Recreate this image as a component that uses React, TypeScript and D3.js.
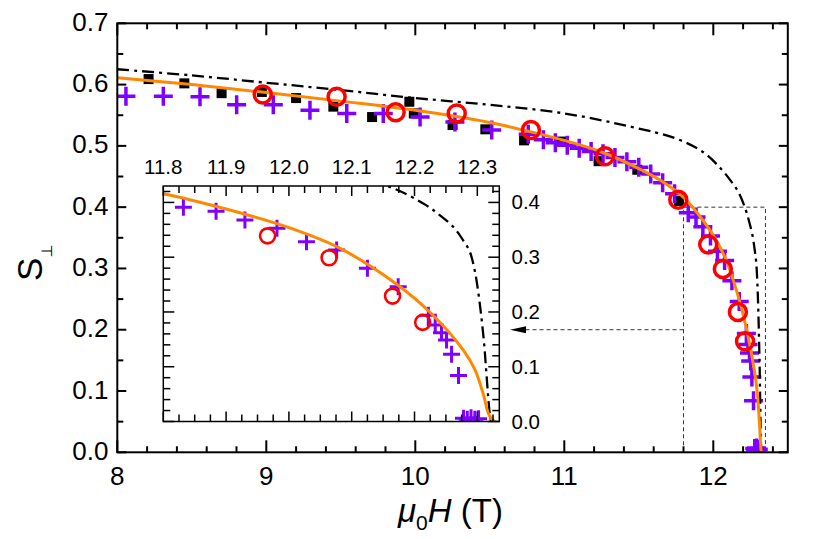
import * as d3 from "d3";

type Pt = [number, number];

// measured points, main panel (mu0H in T, S_perp)
const SQUARES: Pt[] = [
  [8.21, 0.609], [8.45, 0.602], [8.7, 0.586], [8.97, 0.588], [9.2, 0.578],
  [9.45, 0.564], [9.71, 0.547], [9.96, 0.572], [9.99, 0.553], [10.25, 0.534],
  [10.47, 0.527], [10.73, 0.509], [10.98, 0.507], [11.23, 0.475], [11.49, 0.461],
  [11.77, 0.41],
];

const CIRCLES: Pt[] = [
  [8.976, 0.584], [9.472, 0.58], [9.868, 0.555], [10.278, 0.553], [10.776, 0.526],
  [11.273, 0.483], [11.765, 0.412], [11.966, 0.339], [12.064, 0.299],
  [12.165, 0.229], [12.213, 0.181],
];

const CROSSES: Pt[] = [
  [8.058, 0.581], [8.309, 0.581], [8.555, 0.58], [8.801, 0.567], [9.047, 0.567],
  [9.293, 0.558], [9.54, 0.553], [9.785, 0.553], [10.032, 0.547], [10.266, 0.539],
  [10.513, 0.526], [10.758, 0.519], [10.86, 0.51], [10.94, 0.505], [11.02, 0.501],
  [11.1, 0.496], [11.18, 0.491], [11.26, 0.487], [11.34, 0.481], [11.42, 0.474],
  [11.5, 0.465], [11.58, 0.454], [11.66, 0.44], [11.74, 0.422],
  [11.832, 0.391], [11.884, 0.384], [11.93, 0.368], [11.981, 0.353],
  [12.028, 0.328], [12.076, 0.313], [12.125, 0.28], [12.174, 0.246],
  [12.222, 0.194], [12.233, 0.176], [12.243, 0.162], [12.251, 0.149],
  [12.259, 0.123], [12.27, 0.084],
  [12.278, 0.006], [12.284, 0.004], [12.29, 0.007], [12.296, 0.004], [12.302, 0.005],
];

// calculated curves
const CALC_SOLID: Pt[] = [
  [8, 0.611], [8.5, 0.6], [9, 0.587], [9.5, 0.573], [10, 0.558], [10.5, 0.538],
  [11, 0.509], [11.25, 0.49], [11.5, 0.463], [11.65, 0.443], [11.8, 0.416],
  [11.9, 0.388], [12.0, 0.354], [12.08, 0.317], [12.17, 0.252], [12.225, 0.199],
  [12.278, 0.13], [12.296, 0.095], [12.31, 0.048], [12.318, 0.014], [12.328, 0],
  [12.5, 0],
];

const CALC_DASHDOT: Pt[] = [
  [8.0, 0.625], [8.5, 0.615], [9.0, 0.603], [9.5, 0.591], [10.0, 0.578],
  [10.5, 0.567], [11.0, 0.553], [11.45, 0.531], [11.75, 0.512], [11.93, 0.49],
  [12.05, 0.463], [12.12, 0.442], [12.17, 0.424], [12.217, 0.396], [12.24, 0.377],
  [12.262, 0.355], [12.278, 0.33], [12.288, 0.31], [12.296, 0.275],
  [12.302, 0.232], [12.307, 0.185], [12.311, 0.14], [12.314, 0.095],
  [12.317, 0.05], [12.32, 0.012], [12.322, 0],
];

const MAIN_X_TICKS = [8, 9, 10, 11, 12];
const MAIN_Y_TICKS = [0, 0.1, 0.2, 0.3, 0.4, 0.5, 0.6, 0.7];
const INSET_X_TICKS = [11.8, 11.9, 12.0, 12.1, 12.2, 12.3];
const INSET_Y_TICKS = [0, 0.1, 0.2, 0.3, 0.4];

const ZOOM_REGION = { x0: 11.8, x1: 12.35, y1: 0.4 };
const ARROW_LEVEL = 0.2;

const FONT = "'Liberation Sans', Arial, Helvetica, sans-serif";

const COLORS = {
  purple: "#8000ff",
  red: "#ff0000",
  orange: "#ff8800",
  guide: "#333",
};

const MAIN = { left: 117.3, right: 787.8, top: 23.3, bottom: 452.3 };
const INSET = { left: 163.3, right: 499.3, top: 186, bottom: 421.5 };

type Scale = d3.ScaleLinear<number, number>;

function Frame({
  xs,
  ys,
  xMajor,
  xMinor,
  yMajor,
  yMinor,
  xLen,
  yLen,
  strokeWidth,
}: {
  xs: Scale;
  ys: Scale;
  xMajor: number[];
  xMinor: number[];
  yMajor: number[];
  yMinor: number[];
  xLen: [number, number];
  yLen: [number, number];
  strokeWidth: number;
}) {
  const [x0, x1] = xs.range();
  const [y0, y1] = ys.range(); // y0 = bottom
  const lines: JSX.Element[] = [];
  const addX = (v: number, len: number, k: string) => {
    const px = xs(v);
    lines.push(<line key={"xb" + k} x1={px} x2={px} y1={y0} y2={y0 - len} />);
    lines.push(<line key={"xt" + k} x1={px} x2={px} y1={y1} y2={y1 + len} />);
  };
  const addY = (v: number, len: number, k: string) => {
    const py = ys(v);
    lines.push(<line key={"yl" + k} x1={x0} x2={x0 + len} y1={py} y2={py} />);
    lines.push(<line key={"yr" + k} x1={x1} x2={x1 - len} y1={py} y2={py} />);
  };
  xMajor.forEach((v, i) => addX(v, xLen[0], "M" + i));
  xMinor.forEach((v, i) => addX(v, xLen[1], "m" + i));
  yMajor.forEach((v, i) => addY(v, yLen[0], "M" + i));
  yMinor.forEach((v, i) => addY(v, yLen[1], "m" + i));
  return (
    <g stroke="#000" strokeWidth={strokeWidth} fill="none">
      {lines}
      <rect x={x0} y={y1} width={x1 - x0} height={y0 - y1} />
    </g>
  );
}

function Series({
  xs,
  ys,
  crossSize,
  crossWidth,
  circleR,
  circleWidth,
  squareSize,
  showSquares,
}: {
  xs: Scale;
  ys: Scale;
  crossSize: number;
  crossWidth: number;
  circleR: number;
  circleWidth: number;
  squareSize: number;
  showSquares: boolean;
}) {
  const line = d3
    .line<Pt>()
    .x((d) => xs(d[0]))
    .y((d) => ys(d[1]))
    .curve(d3.curveCatmullRom.alpha(0.5));
  const h = crossSize / 2;
  const crossPath = CROSSES.map(([a, b]) => {
    const cx = xs(a);
    const cy = ys(b);
    return `M${cx - h},${cy}H${cx + h}M${cx},${cy - h}V${cy + h}`;
  }).join("");

  return (
    <g>
      {showSquares &&
        SQUARES.map(([a, b], i) => (
          <rect
            key={i}
            x={xs(a) - squareSize / 2}
            y={ys(b) - squareSize / 2}
            width={squareSize}
            height={squareSize}
            fill="#000"
          />
        ))}
      <path d={crossPath} stroke={COLORS.purple} strokeWidth={crossWidth} fill="none" />
      <path
        d={line(CALC_DASHDOT) ?? undefined}
        fill="none"
        stroke="#000"
        strokeWidth={2.3}
        strokeDasharray="12,5,3,5"
      />
      <path
        d={line(CALC_SOLID) ?? undefined}
        fill="none"
        stroke={COLORS.orange}
        strokeWidth={3}
      />
      {CIRCLES.map(([a, b], i) => (
        <circle
          key={i}
          cx={xs(a)}
          cy={ys(b)}
          r={circleR}
          fill="none"
          stroke={COLORS.red}
          strokeWidth={circleWidth}
        />
      ))}
    </g>
  );
}

export default function App() {
  const x = d3.scaleLinear().domain([8, 12.5]).range([MAIN.left, MAIN.right]);
  const y = d3.scaleLinear().domain([0, 0.7]).range([MAIN.bottom, MAIN.top]);
  const ix = d3.scaleLinear().domain([11.8, 12.335]).range([INSET.left, INSET.right]);
  const iy = d3.scaleLinear().domain([0, 0.43]).range([INSET.bottom, INSET.top]);

  const xMinor = d3.range(0, 23).map((i) => 8 + i * 0.2).filter((v) => Math.abs(v - Math.round(v)) > 1e-6);
  const yMinor = d3.range(0, 7).map((i) => 0.05 + i * 0.1);
  const ixMinor = d3.range(1, 22).map((i) => 11.8 + i * 0.025).filter((v) => Math.abs(v * 10 - Math.round(v * 10)) > 1e-6);
  const iyMinor = d3.range(1, 22).map((i) => i * 0.02).filter((v) => Math.abs(v * 10 - Math.round(v * 10)) > 1e-6);

  const guideX0 = x(ZOOM_REGION.x0);
  const guideX1 = x(ZOOM_REGION.x1);
  const guideTop = y(ZOOM_REGION.y1);
  const arrowY = y(ARROW_LEVEL);
  const arrowTip = 510;

  return (
    <svg
      width={830}
      height={539}
      xmlns="http://www.w3.org/2000/svg"
      style={{ position: "absolute", left: 0, top: 0, background: "#fff" }}
      fontFamily={FONT}
    >
      <defs>
        <clipPath id="main-clip">
          <rect x={MAIN.left} y={MAIN.top} width={MAIN.right - MAIN.left} height={MAIN.bottom - MAIN.top} />
        </clipPath>
        <clipPath id="inset-clip">
          <rect x={INSET.left} y={INSET.top} width={INSET.right - INSET.left} height={INSET.bottom - INSET.top} />
        </clipPath>
      </defs>

      {/* dashed zoom region + arrow */}
      <g stroke={COLORS.guide} strokeWidth={1} strokeDasharray="4,3" fill="none">
        <path d={`M${guideX0},${y(0)}V${guideTop}H${guideX1}V${y(0)}`} />
        <path d={`M${guideX0},${arrowY}H${arrowTip + 14}`} />
      </g>
      <path
        d={`M${arrowTip},${arrowY}L${arrowTip + 16},${arrowY - 3.5}L${arrowTip + 16},${arrowY + 3.5}Z`}
        fill="#000"
      />

      <g clipPath="url(#main-clip)">
        <Series
          xs={x}
          ys={y}
          crossSize={19}
          crossWidth={3.5}
          circleR={8.5}
          circleWidth={3.5}
          squareSize={10}
          showSquares={true}
        />
      </g>
      <Frame
        xs={x}
        ys={y}
        xMajor={MAIN_X_TICKS}
        xMinor={xMinor}
        yMajor={MAIN_Y_TICKS}
        yMinor={yMinor}
        xLen={[12, 6]}
        yLen={[9, 6]}
        strokeWidth={2}
      />

      {MAIN_X_TICKS.map((t) => (
        <text key={t} x={x(t)} y={485} fontSize={26} textAnchor="middle">
          {t}
        </text>
      ))}
      {MAIN_Y_TICKS.map((t) => (
        <text key={t} x={108.5} y={y(t) + 7.5} fontSize={26} textAnchor="end">
          {t.toFixed(1)}
        </text>
      ))}

      {/* inset */}
      <rect
        x={INSET.left}
        y={INSET.top}
        width={INSET.right - INSET.left}
        height={INSET.bottom - INSET.top}
        fill="#fff"
      />
      <g clipPath="url(#inset-clip)">
        <Series
          xs={ix}
          ys={iy}
          crossSize={17}
          crossWidth={3}
          circleR={7.5}
          circleWidth={2.6}
          squareSize={9}
          showSquares={false}
        />
      </g>
      <Frame
        xs={ix}
        ys={iy}
        xMajor={INSET_X_TICKS}
        xMinor={ixMinor}
        yMajor={INSET_Y_TICKS}
        yMinor={iyMinor}
        xLen={[10, 7]}
        yLen={[11, 7]}
        strokeWidth={1.5}
      />
      {INSET_X_TICKS.map((t) => (
        <text key={t} x={ix(t)} y={174} fontSize={20.5} textAnchor="middle">
          {t.toFixed(1)}
        </text>
      ))}
      {INSET_Y_TICKS.map((t) => (
        <text key={t} x={511.5} y={iy(t) + 7} fontSize={20.5}>
          {t.toFixed(1)}
        </text>
      ))}

      {/* axis titles */}
      <text x={398} y={521.7} fontSize={33}>
        <tspan fontStyle="italic">μ</tspan>
        <tspan fontSize={21} dy={8}>0</tspan>
        <tspan fontStyle="italic" dy={-8}>H</tspan>
        <tspan>{" (T)"}</tspan>
      </text>
      <text transform="translate(42,281) rotate(-90)" fontSize={35}>
        <tspan>S</tspan>
        <tspan fontSize={15} dy={10} fontFamily="'DejaVu Sans', sans-serif">
          ⊥
        </tspan>
      </text>
    </svg>
  );
}
